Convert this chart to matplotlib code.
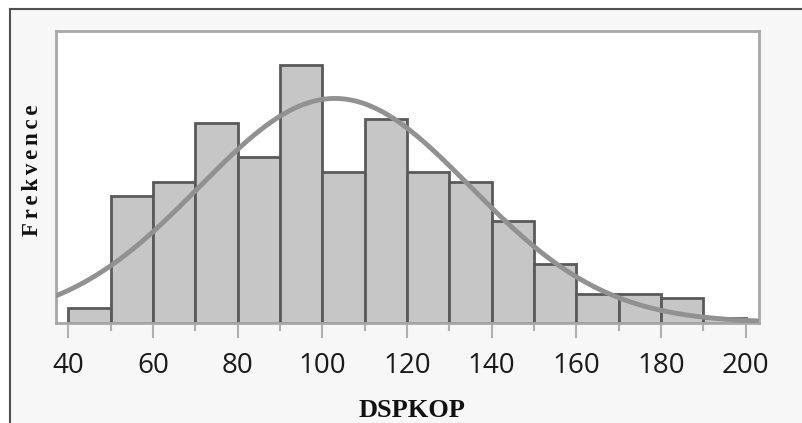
import numpy as np
import matplotlib
matplotlib.use("Agg")
import matplotlib.pyplot as plt
from matplotlib.patches import Rectangle

# Data
bin_edges = [40, 50, 60, 70, 80, 90, 100, 110, 120, 130, 140, 150, 160, 170, 180, 190, 200]
counts = [3, 26, 29, 41, 34, 53, 31, 42, 31, 29, 21, 12, 6, 6, 5, 1]
fit_mean = 103.0
fit_sd = 32.0
x_ticks = [40, 60, 80, 100, 120, 140, 160, 180, 200]
minor_ticks = [50, 70, 90, 110, 130, 150, 170, 190]
x_label = "DSPKOP"
y_label = "Frekvence"

W, H, DPI = 802, 423, 100
fig = plt.figure(figsize=(W / DPI, H / DPI), dpi=DPI)
fig.patch.set_facecolor("white")

# outer panel (light gray) with dark left/top border
bg = Rectangle((9.5 / W, 0), 1, 1 - 10 / H, transform=fig.transFigure,
               facecolor="#f7f7f7", edgecolor="none", zorder=-5)
fig.add_artist(bg)
fig.add_artist(plt.Line2D([9.5 / W, 9.5 / W], [0, 1 - 9.5 / H], transform=fig.transFigure,
                          color="#505050", lw=1.5, zorder=-4))
fig.add_artist(plt.Line2D([9.5 / W, 1], [1 - 9.5 / H, 1 - 9.5 / H], transform=fig.transFigure,
                          color="#505050", lw=1.5, zorder=-4))

left, right, top, bottom = 56 / W, 758.7 / W, 1 - 31 / H, 1 - 322.7 / H
ax = fig.add_axes([left, bottom, right - left, top - bottom])
ax.set_zorder(1)
ax.set_facecolor("white")

edges = np.array(bin_edges, dtype=float)
widths = np.diff(edges)
ax.bar(edges[:-1], counts, width=widths, align="edge", color="#c6c6c6",
       edgecolor="#5a5a5a", linewidth=2.0, zorder=2)

xs = np.linspace(37, 203.1, 400)
binw = widths[0]
total = sum(counts)
ys = total * binw / (fit_sd * np.sqrt(2 * np.pi)) * np.exp(-0.5 * ((xs - fit_mean) / fit_sd) ** 2)
ax.plot(xs, ys, color="#919191", lw=3.5, zorder=3, solid_capstyle="butt")

ax.set_xlim(37.1, 203.1)
ax.set_ylim(0, 60)
ax.set_yticks([])
ax.set_xticks(x_ticks)
ax.set_xticks(minor_ticks, minor=True)
ax.set_xticklabels([str(t) for t in x_ticks], fontsize=20, family=["Open Sans", "DejaVu Sans"],
                   color="#1a1a1a")
ax.tick_params(axis="x", which="major", length=11, width=1.5, color="#b0b0b0", pad=10)
ax.tick_params(axis="x", which="minor", length=6, width=1.5, color="#b0b0b0")
for s in ax.spines.values():
    s.set_color("#a8a8a8")
    s.set_linewidth(2)

fig.text(412 / W, 1 - 410 / H, x_label, ha="center", va="center", fontsize=19,
         fontweight="bold", family=["Liberation Serif", "DejaVu Serif"], color="#111111")
fig.text(33 / W, 1 - 170 / H, "\u2006".join(y_label), ha="center", va="center", fontsize=16.5,
         fontweight="bold", rotation=90, family=["Liberation Serif", "DejaVu Serif"],
         color="#111111")

fig.savefig("out.png", dpi=DPI, facecolor=fig.get_facecolor())
